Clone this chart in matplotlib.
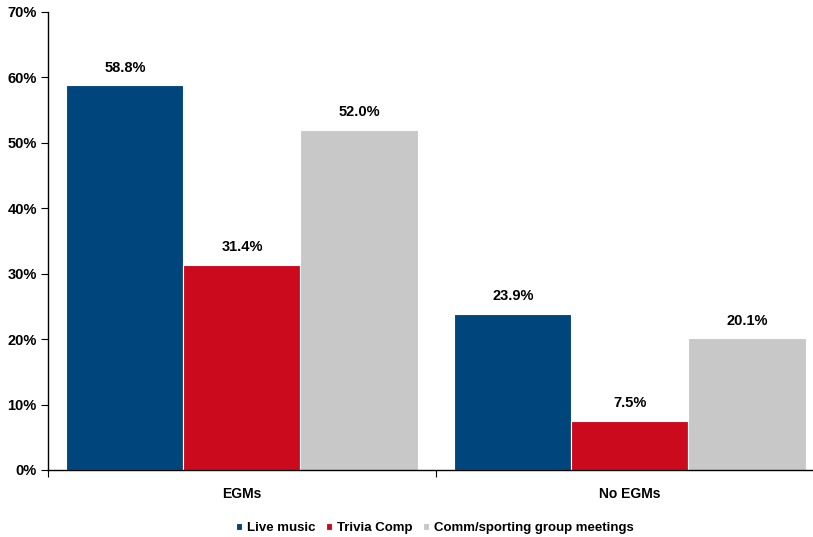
import matplotlib.pyplot as plt
import numpy as np

plt.rcParams['font.family'] = ['Liberation Sans', 'DejaVu Sans']
plt.rcParams['font.weight'] = 'bold'

# data
categories = ["EGMs", "No EGMs"]
live_music = [58.8, 23.9]
trivia_comp = [31.4, 7.5]
comm_meetings = [52.0, 20.1]
series_names = ["Live music", "Trivia Comp", "Comm/sporting group meetings"]
colors = ["#00457C", "#CC0A1E", "#C8C8C8"]

fig = plt.figure(figsize=(8.13, 5.37), dpi=100)
ax = fig.add_axes([0.059, 0.1248, 0.9545, 0.8529])

x = np.arange(len(categories))
w = 0.3016
for i, (vals, name, c) in enumerate(zip([live_music, trivia_comp, comm_meetings], series_names, colors)):
    bars = ax.bar(x + (i - 1) * w, vals, w, color=c, edgecolor="white", linewidth=0.8, label=name)
    for b, v in zip(bars, vals):
        ax.text(b.get_x() + b.get_width() / 2, v + 1.6, f"{v:.1f}%", ha="center", va="bottom",
                fontsize=10.5, fontweight="bold")

ax.set_xlim(-0.5, 1.5)
ax.set_ylim(0, 70)
ax.set_yticks(range(0, 71, 10))
ax.set_yticklabels([f"{t}%" for t in range(0, 71, 10)], fontsize=10.5, fontweight="bold")
ax.set_xticks([-0.5, 0.5, 1.5])
ax.set_xticklabels([])
ax.tick_params(axis="x", length=5, width=0.8, direction="out")
ax.tick_params(axis="y", length=5, width=0.8, direction="out", pad=3)
for i, cat in enumerate(categories):
    ax.text(i, -3.6, cat, ha="center", va="center", fontsize=10, fontweight="bold")

ax.spines["top"].set_visible(False)
ax.spines["right"].set_visible(False)
ax.spines["left"].set_linewidth(1.0)
ax.spines["bottom"].set_linewidth(1.0)

handles, labels = ax.get_legend_handles_labels()
fig.legend(handles, labels, loc="center", bbox_to_anchor=(0.535, 0.017), ncol=3, frameon=False,
           handlelength=0.45, handleheight=0.45, handletextpad=0.4, columnspacing=0.8,
           prop={"size": 9.5, "weight": "bold"})

fig.savefig("out.png", dpi=100)
